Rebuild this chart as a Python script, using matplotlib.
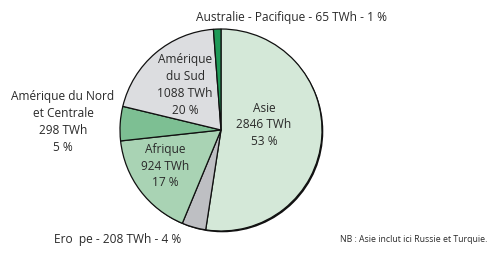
import numpy as np
import matplotlib.pyplot as plt
from matplotlib.patches import Circle

plt.rcParams['font.family'] = ['Open Sans', 'DejaVu Sans']

# donnees (TWh)
regions = ['Asie', 'Europe', 'Afrique', 'Amérique du Nord et Centrale',
           'Amérique du Sud', 'Australie - Pacifique']
twh = [2846, 208, 924, 298, 1088, 65]
pct = [53, 4, 17, 5, 20, 1]
colors = ['#d4e8d8', '#bebfc3', '#a9d3b4', '#7dbf93', '#dcdde0', '#1e9a57']

fig = plt.figure(figsize=(5, 2.54), dpi=100)
ax = fig.add_axes([0, 0, 1, 1])

H = 254
cx, cy, r = 221, H - 130, 101

# ombre legere (bord droit plus epais)
ax.add_patch(Circle((cx + 1.3, cy - 1.3), r, facecolor='#111111', edgecolor='none', zorder=0))

ax.pie(twh, colors=colors, startangle=90, counterclock=False,
       center=(cx, cy), radius=r, frame=True,
       wedgeprops=dict(edgecolor='#111111', linewidth=0.9, zorder=1))
ax.set_xlim(0, 500)
ax.set_ylim(0, 254)
ax.set_aspect('equal')
ax.axis('off')

fs = 8.6
tc = '#2a2a2a'
ls = 1.38
ax.text(264, H - 125, 'Asie\n%d TWh\n%d %%' % (twh[0], pct[0]),
        ha='center', va='center', fontsize=fs, color=tc, linespacing=ls)
ax.text(185, H - 85, 'Amérique\ndu Sud\n%d TWh\n%d %%' % (twh[4], pct[4]),
        ha='center', va='center', fontsize=fs, color=tc, linespacing=ls)
ax.text(165, H - 166, 'Afrique\n%d TWh\n%d %%' % (twh[2], pct[2]),
        ha='center', va='center', fontsize=fs, color=tc, linespacing=ls)
ax.text(63, H - 122, 'Amérique du Nord\net Centrale\n%d TWh\n%d %%' % (twh[3], pct[3]),
        ha='center', va='center', fontsize=fs, color=tc, linespacing=ls)
ax.text(291, H - 17, 'Australie - Pacifique - %d TWh - %d %%' % (twh[5], pct[5]),
        ha='center', va='center', fontsize=fs, color=tc)
ax.text(54, H - 240, 'Ero  pe - %d TWh - %d %%' % (twh[1], pct[1]),
        ha='left', va='center', fontsize=fs, color=tc)
ax.text(340, H - 240, 'NB : Asie inclut ici Russie et Turquie.',
        ha='left', va='center', fontsize=6.3, color=tc)

fig.savefig('out.png', dpi=100)
